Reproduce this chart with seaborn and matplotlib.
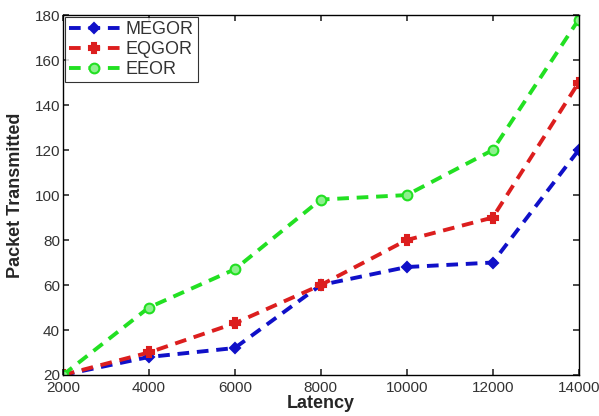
import matplotlib
matplotlib.use("Agg")
import matplotlib.pyplot as plt
import seaborn as sns
import pandas as pd

latency = [2000, 4000, 6000, 8000, 10000, 12000, 14000]
megor = [20, 28, 32, 60, 68, 70, 120]
eqgor = [20, 30, 43, 60, 80, 90, 150]
eeor = [20, 50, 67, 98, 100, 120, 178]

sns.set_theme(style="white")
plt.rcParams['font.family'] = ['Liberation Sans', 'DejaVu Sans']

df = pd.DataFrame({"Latency": latency * 3,
                   "value": megor + eqgor + eeor,
                   "series": ["MEGOR"] * 7 + ["EQGOR"] * 7 + ["EEOR"] * 7})

fig = plt.figure(figsize=(5.99, 4.16), dpi=100)
ax = fig.add_axes([0.105, 0.0986, 0.861, 0.865])

styles = {"MEGOR": dict(color="#1010c8", marker="D", ms=5, mfc="#1010c8"),
          "EQGOR": dict(color="#dc1e1e", marker="P", ms=7, mfc="#dc1e1e"),
          "EEOR": dict(color="#22e022", marker="o", ms=7, mfc="#8ef08e")}
for name in ["MEGOR", "EQGOR", "EEOR"]:
    sub = df[df.series == name]
    st = styles[name]
    sns.lineplot(data=sub, x="Latency", y="value", ax=ax, color=st["color"],
                 linestyle=(0, (3, 2)), linewidth=2.8, marker=st["marker"],
                 markersize=st["ms"], markerfacecolor=st["mfc"],
                 markeredgecolor=st["color"], markeredgewidth=1.5, label=name)

ax.set_xlim(2000, 14000)
ax.set_ylim(20, 180)
ax.set_xticks(latency)
ax.set_yticks(range(20, 181, 20))
ax.tick_params(axis="both", direction="in", length=4, labelsize=11,
               colors="#333333", pad=2)
ax.tick_params(axis="x", pad=4)
ax.tick_params(top=True, right=True, bottom=True, left=True)
for s in ax.spines.values():
    s.set_color("black")
    s.set_linewidth(1)
ax.set_xlabel("Latency", fontsize=13, fontweight="bold", labelpad=0)
ax.set_ylabel("Packet Transmitted", fontsize=13, fontweight="bold", labelpad=8)
leg = ax.legend(loc="upper left", fontsize=13, frameon=True, fancybox=False,
                edgecolor="black", borderaxespad=0.1, handlelength=2.8,
                labelspacing=0.15, handletextpad=0.3, borderpad=0.25)
leg.get_frame().set_linewidth(0.8)
for t in leg.get_texts():
    t.set_color("#333333")
fig.savefig("out.png", dpi=100)
